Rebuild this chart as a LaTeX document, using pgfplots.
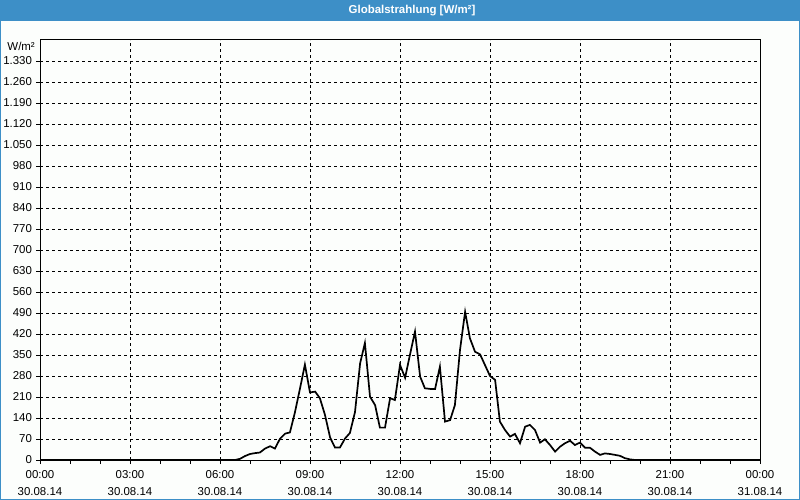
\documentclass[border=0pt]{standalone}
\usepackage{pgfplots}
\pgfplotsset{compat=1.18}
\usepackage{fontspec}
\setmainfont{Liberation Sans}
\definecolor{barblue}{RGB}{61,143,199}
\definecolor{bg}{RGB}{252,254,252}
\begin{document}
\fontsize{11.5}{13}\selectfont
\begin{tikzpicture}
\fill[bg] (-40bp,-40bp) rectangle (760bp,460bp);
\fill[barblue] (-40bp,439bp) rectangle (760bp,460bp);
\draw[barblue, line width=1bp] (-39.5bp,-39.5bp) rectangle (759.5bp,459.5bp);
\node[text=white, inner sep=0pt, font=\bfseries\fontsize{11.5}{13}\selectfont] at (372bp,449.5bp) {Globalstrahlung [W/m²]};
\begin{axis}[
  at={(0,0)}, anchor=south west,
  scale only axis, width=720bp, height=420bp,
  xmin=0, xmax=24, ymin=0, ymax=1400,
  xtick={0,3,6,9,12,15,18,21,24},
  minor xtick={1,2,4,5,7,8,10,11,13,14,16,17,19,20,22,23},
  xticklabels={{00:00\\30.08.14},{03:00\\30.08.14},{06:00\\30.08.14},{09:00\\30.08.14},{12:00\\30.08.14},{15:00\\30.08.14},{18:00\\30.08.14},{21:00\\30.08.14},{00:00\\31.08.14}},
  xticklabel style={align=center, font=\fontsize{11.5}{17}\selectfont, yshift=-2.5bp},
  ytick={0,70,140,210,280,350,420,490,560,630,700,770,840,910,980,1050,1120,1190,1260,1330},
  yticklabel style={font=\fontsize{11.5}{13}\selectfont},
  scaled y ticks=false,
  /pgf/number format/.cd, fixed, precision=0, 1000 sep={.}, assume math mode=true,
  /pgfplots/.cd,
  xtick pos=bottom, ytick pos=left,
  tick align=outside,
  major tick length=4bp, minor tick length=4bp,
  tick style={black, line width=0.8bp},
  minor tick style={black, line width=0.8bp},
  grid=major,
  major grid style={black, line width=0.8bp, dash pattern=on 3bp off 3bp},
  axis line style={black, line width=1bp},
]
\addplot[black, line width=1.7bp] coordinates {
(0,0) (6.5,0) (6.67,4) (6.83,13) (7.0,20) (7.17,23) (7.33,25) (7.5,38) (7.67,46) (7.83,38)
(8.0,71) (8.17,88) (8.33,92) (8.5,160) (8.67,240) (8.83,318) (9.0,225) (9.17,228) (9.33,206) (9.5,150)
(9.67,75) (9.83,42) (10.0,42) (10.17,72) (10.33,90) (10.5,160) (10.67,322) (10.83,390) (11.0,211) (11.17,183)
(11.33,108) (11.5,108) (11.67,206) (11.83,200) (12.0,317) (12.17,274) (12.33,350) (12.5,428) (12.67,278) (12.83,239)
(13.0,237) (13.17,237) (13.33,311) (13.5,128) (13.67,133) (13.83,183) (14.0,367) (14.17,494) (14.33,406) (14.5,361)
(14.67,352) (14.83,317) (15.0,280) (15.17,267) (15.33,128) (15.5,100) (15.67,78) (15.83,87) (16.0,56) (16.17,111)
(16.33,117) (16.5,100) (16.67,58) (16.83,69) (17.0,50) (17.17,28) (17.33,44) (17.5,56) (17.67,64) (17.83,50)
(18.0,58) (18.17,41) (18.33,41) (18.5,28) (18.67,17) (18.83,22) (19.0,20) (19.17,17) (19.33,14) (19.5,6)
(19.67,2) (19.83,0) (24,0)
};
\end{axis}
\node[anchor=north east, inner sep=0pt] at (-5bp,418bp) {W/m²};
\pgfresetboundingbox
\path (-40bp,-40bp) rectangle (760bp,460bp);
\end{tikzpicture}
\end{document}
